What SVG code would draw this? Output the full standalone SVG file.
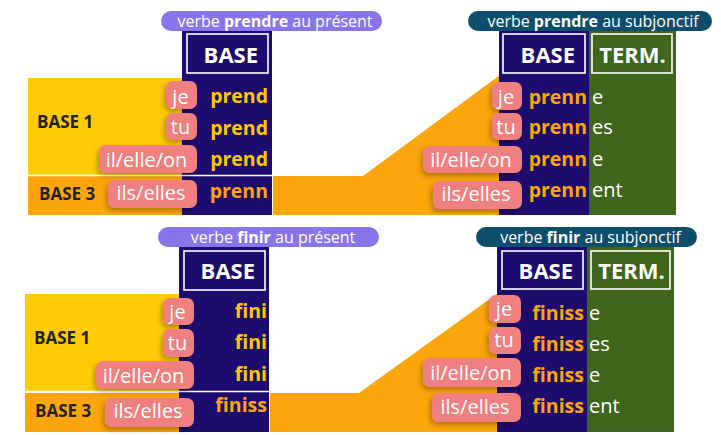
<svg xmlns="http://www.w3.org/2000/svg" width="721" height="435" viewBox="0 0 721 435">
<defs>
<filter id="sh" x="-30%" y="-30%" width="160%" height="180%">
<feDropShadow dx="-2" dy="3" stdDeviation="2.5" flood-color="#000" flood-opacity="0.28"/>
</filter>
<style>
text{font-family:"Open Sans","Noto Sans",sans-serif}
.yel{fill:#fecb04}
.org{fill:#fca50c}
.navy{fill:#1d0c6e}
.green{fill:#40651c}
.box{fill:none;stroke:#fff;stroke-width:1.6}
.lav{fill:#8875eb}
.teal{fill:#0f4d6c}
.lbl{fill:#fff;font-size:16px;text-anchor:middle}
.hd{fill:#fff;font-size:22px;font-weight:700}
.pill{fill:#f07f7f;filter:url(#sh)}
.pt{fill:#fff;font-size:20px;text-anchor:middle}
.by{fill:#fcc800;font-size:19.5px;font-weight:700;text-anchor:end}
.bo{fill:#fba50c;font-size:19.5px;font-weight:700;text-anchor:end}
.tm{fill:#fff;font-size:20px}
.grp{fill:#222;font-size:17px;font-weight:700}
.sep{stroke:#fff;stroke-width:1.5}
</style>
</defs>
<rect width="721" height="435" fill="#fff"/>

<!-- top-left: prendre présent -->
<g id="prendre-present">
<rect class="yel" x="28" y="78" width="160" height="97"/>
<rect class="org" x="28" y="176" width="160" height="39"/>
<text class="grp" x="37" y="128">BASE 1</text>
<text class="grp" x="39" y="200">BASE 3</text>
<rect class="navy" x="182" y="31" width="90" height="184"/>
<line class="sep" x1="28" y1="175.5" x2="272" y2="175.5"/>
<rect class="box" x="187" y="34" width="81" height="39"/>
<text class="hd" x="258" y="63" text-anchor="end">BASE</text>
<rect class="lav" x="161" y="11" width="221" height="20" rx="10"/>
<text class="lbl" x="275" y="26.5">verbe <tspan font-weight="700">prendre</tspan> au présent</text>
<g id="pp-je"><rect class="pill" x="166" y="81" width="31" height="28" rx="7"/><text class="pt" x="180.5" y="104">je</text><text class="by" x="268" y="103">prend</text></g>
<g id="pp-tu"><rect class="pill" x="166" y="113" width="31" height="27" rx="7"/><text class="pt" x="180.5" y="134">tu</text><text class="by" x="268" y="135">prend</text></g>
<g id="pp-il"><rect class="pill" x="99" y="145" width="98" height="28" rx="7"/><text class="pt" x="146.5" y="167">il/elle/on</text><text class="by" x="268" y="166">prend</text></g>
<g id="pp-ils"><rect class="pill" x="108" y="180" width="89" height="28" rx="7"/><text class="pt" x="151" y="200">ils/elles</text><text class="bo" x="268" y="198">prenn</text></g>
</g>

<!-- bottom-left: finir présent -->
<g id="finir-present">
<rect class="yel" x="25" y="294" width="160" height="97"/>
<rect class="org" x="25" y="393" width="160" height="39"/>
<text class="grp" x="34" y="344">BASE 1</text>
<text class="grp" x="35" y="417">BASE 3</text>
<rect class="navy" x="179" y="247" width="90" height="185"/>
<line class="sep" x1="25" y1="391.5" x2="269" y2="391.5"/>
<rect class="box" x="184" y="251" width="81" height="39"/>
<text class="hd" x="255" y="279" text-anchor="end">BASE</text>
<rect class="lav" x="158" y="227" width="221" height="20" rx="10"/>
<text class="lbl" x="273" y="242.5">verbe <tspan font-weight="700">finir</tspan> au présent</text>
<g id="fp-je"><rect class="pill" x="163" y="298" width="31" height="27" rx="7"/><text class="pt" x="177.5" y="319">je</text><text class="by" x="267" y="318">fini</text></g>
<g id="fp-tu"><rect class="pill" x="163" y="329" width="31" height="28" rx="7"/><text class="pt" x="177.5" y="350">tu</text><text class="by" x="267" y="349">fini</text></g>
<g id="fp-il"><rect class="pill" x="96" y="361" width="98" height="28" rx="7"/><text class="pt" x="143.5" y="383">il/elle/on</text><text class="by" x="267" y="381">fini</text></g>
<g id="fp-ils"><rect class="pill" x="105" y="398" width="89" height="29" rx="7"/><text class="pt" x="148" y="418">ils/elles</text><text class="bo" x="267" y="412">finiss</text></g>
</g>

<!-- connectors -->
<g id="connectors">
<polygon class="org" points="273,176 363,176 500,75 500,215 273,215"/>
<polygon class="org" points="270,393 359,393 498,293 498,432 270,432"/>
</g>

<!-- top-right: prendre subjonctif -->
<g id="prendre-subjonctif">
<rect class="navy" x="499" y="31" width="90" height="184"/>
<rect class="green" x="589" y="31" width="87" height="184"/>
<rect class="box" x="503" y="34" width="82" height="39"/>
<rect class="box" x="592" y="34" width="80" height="39"/>
<text class="hd" x="575" y="63" text-anchor="end">BASE</text>
<text class="hd" x="632.5" y="63" text-anchor="middle">TERM.</text>
<rect class="teal" x="468" y="11" width="244" height="20" rx="10"/>
<text class="lbl" x="593" y="26.5">verbe <tspan font-weight="700">prendre</tspan> au subjonctif</text>
<g id="ps-je"><rect class="pill" x="492" y="82" width="30" height="28" rx="7"/><text class="pt" x="506" y="104">je</text><text class="bo" x="587" y="104">prenn</text><text class="tm" x="592" y="104">e</text></g>
<g id="ps-tu"><rect class="pill" x="492" y="113" width="30" height="27" rx="7"/><text class="pt" x="506" y="134">tu</text><text class="bo" x="587" y="134">prenn</text><text class="tm" x="592" y="134">es</text></g>
<g id="ps-il"><rect class="pill" x="423" y="146" width="99" height="27" rx="7"/><text class="pt" x="471" y="167">il/elle/on</text><text class="bo" x="587" y="166">prenn</text><text class="tm" x="592" y="166">e</text></g>
<g id="ps-ils"><rect class="pill" x="433" y="181" width="89" height="28" rx="7"/><text class="pt" x="476" y="201">ils/elles</text><text class="bo" x="587" y="197">prenn</text><text class="tm" x="592" y="197">ent</text></g>
</g>

<!-- bottom-right: finir subjonctif -->
<g id="finir-subjonctif">
<rect class="navy" x="497" y="247" width="90" height="185"/>
<rect class="green" x="587" y="247" width="87" height="185"/>
<rect class="box" x="502" y="251" width="81" height="38"/>
<rect class="box" x="591" y="251" width="79" height="38"/>
<text class="hd" x="573" y="279" text-anchor="end">BASE</text>
<text class="hd" x="631.5" y="279" text-anchor="middle">TERM.</text>
<rect class="teal" x="476" y="227" width="221" height="20" rx="10"/>
<text class="lbl" x="590.5" y="242.5">verbe <tspan font-weight="700">finir</tspan> au subjonctif</text>
<g id="fs-je"><rect class="pill" x="489" y="295" width="32" height="28" rx="7"/><text class="pt" x="504" y="316">je</text><text class="bo" x="584" y="320">finiss</text><text class="tm" x="589" y="320">e</text></g>
<g id="fs-tu"><rect class="pill" x="489" y="327" width="32" height="27" rx="7"/><text class="pt" x="504" y="347">tu</text><text class="bo" x="584" y="351">finiss</text><text class="tm" x="589" y="351">es</text></g>
<g id="fs-il"><rect class="pill" x="423" y="358" width="98" height="29" rx="7"/><text class="pt" x="471" y="380">il/elle/on</text><text class="bo" x="584" y="382">finiss</text><text class="tm" x="589" y="382">e</text></g>
<g id="fs-ils"><rect class="pill" x="432" y="393" width="89" height="29" rx="7"/><text class="pt" x="475" y="414">ils/elles</text><text class="bo" x="584" y="413">finiss</text><text class="tm" x="589" y="413">ent</text></g>
</g>
</svg>
